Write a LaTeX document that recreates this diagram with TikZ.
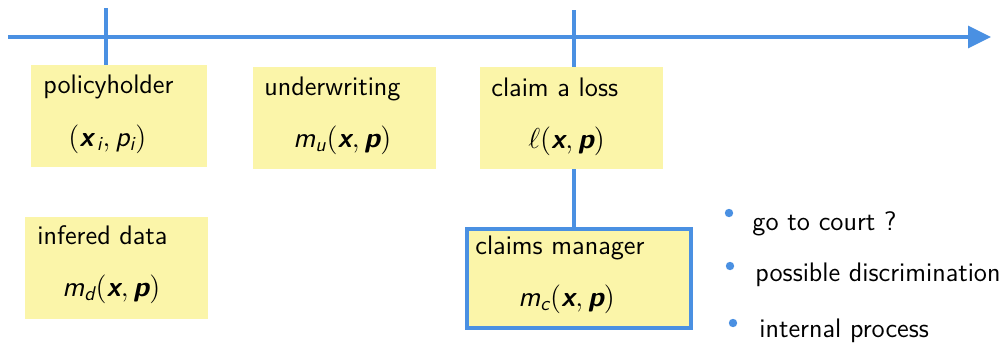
\documentclass[tikz,border=0pt]{standalone}
\usetikzlibrary{arrows.meta}
\DeclareMathAlphabet{\msl}{TU}{lmss}{m}{sl}
\DeclareMathAlphabet{\mbsl}{TU}{lmss}{bx}{sl}
\definecolor{boxyellow}{RGB}{251,245,169}
\definecolor{lineblue}{RGB}{74,144,226}
\tikzset{
  yellowbox/.style={fill=boxyellow, draw=none, inner sep=0pt},
  txt/.style={anchor=base west, inner sep=0pt, font=\fontsize{13.4}{15}\sffamily},
  mtxt/.style={anchor=base west, inner sep=0pt, font=\fontsize{14.2}{16}\sffamily},
  axis/.style={draw=lineblue, line width=1.65pt},
  bulletdot/.style={fill=lineblue, draw=none, circle, minimum size=4.2pt, inner sep=0pt},
}
\begin{document}
\begin{tikzpicture}[x=0.5pt,y=-0.5pt]
\useasboundingbox (0,0) rectangle (1001,344);
% boxes
\path[yellowbox] (31,65) rectangle (207,167) node[midway, inner sep=0pt] (ph) {};
\path[yellowbox] (253,67) rectangle (436,169) node[midway, inner sep=0pt] (uw) {};
\path[yellowbox] (480,67) rectangle (663,169) node[midway, inner sep=0pt] (cl) {};
\path[yellowbox] (25,217) rectangle (208,319) node[midway, inner sep=0pt] (id) {};
\node[yellowbox, draw=lineblue, line width=2pt, minimum width=112pt, minimum height=49.5pt, anchor=north west] (cm) at (465,227) {};
% coordinates for timeline
\coordinate (start) at (8,37);
\coordinate (end) at (991,37);
\coordinate (t1) at (106,8);
\coordinate (t2) at (574,10);
\coordinate (phtop) at (106,65);
\coordinate (cltop) at (574,67);
\coordinate (clbot) at (574,169);
\coordinate (cmtop) at (574,227);
% timeline
\draw[axis, -{Triangle[length=11.5pt,width=11pt]}] (start) -- (end);
\draw[axis] (t1) -- (phtop);
\draw[axis] (t2) -- (cltop);
\draw[axis] (clbot) -- (cmtop);
% texts
\node[txt] (phl) at (43,93) {policyholder};
\node[mtxt] (phm) at (68,146) {$(\mbsl{x}_{\,\msl{i}},\msl{p}_{\msl{i}})$};
\node[txt] (uwl) at (264,95) {underwriting};
\node[mtxt] (uwm) at (293,147) {$\msl{m}_{\msl{u}}(\mbsl{x},\mbsl{p})$};
\node[txt] (cll) at (491,96) {claim a loss};
\node[mtxt] (clm) at (528,148) {$\ell(\mbsl{x},\mbsl{p})$};
\node[txt] (idl) at (37,244) {infered data};
\node[mtxt] (idm) at (62,296) {$\msl{m}_{\msl{d}}(\mbsl{x},\mbsl{p})$};
\node[txt] (cml) at (475,254) {claims manager};
\node[mtxt] (cmm) at (518,306) {$\msl{m}_{\msl{c}}(\mbsl{x},\mbsl{p})$};
% bullets
\node[bulletdot] (b1) at (729,213) {};
\node[bulletdot] (b2) at (730,266) {};
\node[bulletdot] (b3) at (733,323) {};
\node[txt] (i1) at (752,230) {go to court ?};
\node[txt] (i2) at (755,281) {possible discrimination};
\node[txt] (i3) at (759,337) {internal process};
\end{tikzpicture}
\end{document}
